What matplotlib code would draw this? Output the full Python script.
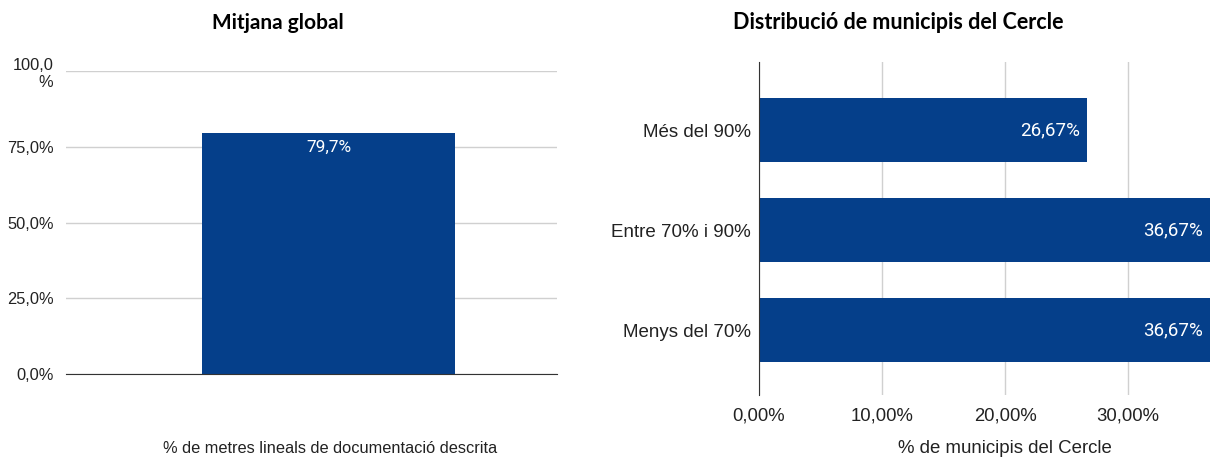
import matplotlib.pyplot as plt
from matplotlib.ticker import FuncFormatter

# dades
mitjana_cat = ["% de metres lineals"]
mitjana_val = [79.7]

trams = ["Més del 90%", "Entre 70% i 90%", "Menys del 70%"]
trams_val = [26.67, 36.67, 36.67]

blau = '#053f8a'
gris = '#d0d0d0'
text_c = '#222222'

fig = plt.figure(figsize=(12.11, 4.59), dpi=100)

# --- Mitjana global ---
ax1 = fig.add_axes([0.0545, 0.1852, 0.4055, 0.6601])
ax1.bar([0], mitjana_val, width=1.0, color=blau, zorder=3)
ax1.set_xlim(-1.0375, 0.903)
ax1.set_ylim(0, 100)
ax1.set_yticks([0, 25, 50, 75, 100])
ax1.set_yticklabels(["0,0%", "25,0%", "50,0%", "75,0%", "100,0\n%"],
                    family='Liberation Sans', fontsize=11.8, color=text_c)
ax1.set_xticks([])
ax1.grid(axis='y', color=gris, linewidth=1, zorder=0)
ax1.tick_params(axis='y', length=0, pad=9)
for s in ['top', 'right', 'left']:
    ax1.spines[s].set_visible(False)
ax1.spines['bottom'].set_color('#333333')
ax1.spines['bottom'].set_zorder(4)
for i, v in enumerate(mitjana_val):
    ax1.text(i, v - 5, f"{v:.1f}%".replace('.', ','), ha='center', va='center',
             color='white', fontsize=12.4, family='Roboto', zorder=5)
fig.text(0.2295, 0.950, "Mitjana global", ha='center', va='center',
         fontsize=15, fontweight='bold', family='Lato')
fig.text(0.2725, 0.022, "% de metres lineals de documentació descrita", ha='center',
         va='center', fontsize=11.8, family='Liberation Sans', color=text_c)

# --- Distribució ---
ax2 = fig.add_axes([0.6268, 0.1394, 0.3732, 0.7255])
y = list(range(len(trams)))
ax2.barh(y, trams_val, height=0.64, color=blau, zorder=3)
ax2.set_ylim(2.65, -0.68)
ax2.set_xlim(0, 36.75)
ax2.set_yticks(y)
ax2.set_yticklabels(trams, family='Liberation Sans', fontsize=13.5, color=text_c)
ax2.set_xticks([0, 10, 20, 30])
ax2.xaxis.set_major_formatter(FuncFormatter(lambda v, p: f"{v:.2f}%".replace('.', ',')))
for lab in ax2.get_xticklabels():
    lab.set_family('Liberation Sans')
    lab.set_fontsize(13.3)
    lab.set_color(text_c)
ax2.grid(axis='x', color=gris, linewidth=1, zorder=0)
ax2.tick_params(axis='both', length=0)
ax2.tick_params(axis='y', pad=6)
ax2.tick_params(axis='x', pad=9)
for s in ['top', 'right', 'bottom']:
    ax2.spines[s].set_visible(False)
ax2.spines['left'].set_color('#333333')
ax2.spines['left'].set_zorder(4)
for i, v in enumerate(trams_val):
    ax2.text(v - 0.6, i, f"{v:.2f}%".replace('.', ','), ha='right', va='center',
             color='white', fontsize=13.5, family='Roboto', zorder=5)
ax2.set_xlabel("% de municipis del Cercle", family='Liberation Sans', fontsize=13.4,
               color=text_c)
ax2.xaxis.set_label_coords(0.544, -0.135)
fig.text(0.7415, 0.950, "Distribució de municipis del Cercle", ha='center', va='center',
         fontsize=15.5, fontweight='bold', family='Lato')

fig.savefig('out.png', dpi=100)
